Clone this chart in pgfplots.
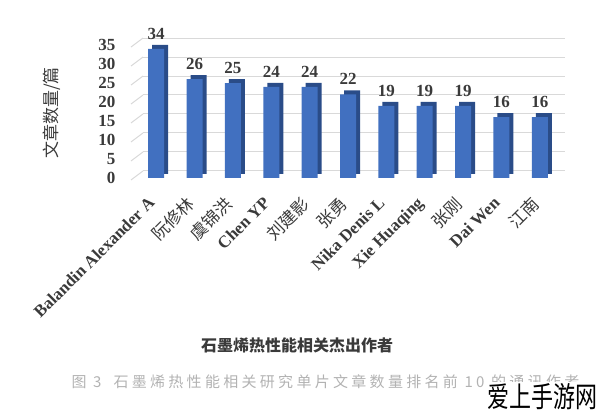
\documentclass[border=0pt]{standalone}
\usepackage{pgfplots}
\pgfplotsset{compat=1.18}
\usepackage{fontspec}
\setmainfont{Liberation Serif}
\newfontfamily\cjk{Noto Sans CJK SC}
\definecolor{barfront}{HTML}{4170C0}
\definecolor{barside}{HTML}{2A4C88}
\definecolor{txt}{HTML}{3A3A3A}
\definecolor{gridc}{HTML}{D9D9D9}
\begin{document}
\begin{tikzpicture}
\useasboundingbox (0,0) rectangle (600pt,415pt);
\begin{axis}[
  at={(137pt,237pt)}, anchor=south west,
  scale only axis, width=422pt, height=133pt,
  xmin=-0.5, xmax=10.5, ymin=0, ymax=35,
  axis line style={draw=none},
  major tick length=0pt,
  ytick={0,5,...,35},
  ymajorgrids,
  grid style={gridc, line width=1pt, xshift=6pt, yshift=7pt},
  xtick={0,...,10},
  xticklabels={Balandin Alexander A,{\cjk\mdseries 阮修林},{\cjk\mdseries 虞锦洪},Chen YP,{\cjk\mdseries 刘建影},{\cjk\mdseries 张勇},Nika Denis L,Xie Huaqing,{\cjk\mdseries 张刚},Dai Wen,{\cjk\mdseries 江南}},
  x tick label style={xshift=-9pt, yshift=-16pt, rotate=45, anchor=north east, font=\bfseries\fontsize{17}{17}\selectfont, text=txt, inner sep=1pt},
  y tick label style={font=\bfseries\fontsize{17}{17}\selectfont, text=txt, xshift=-18pt},
  /pgf/number format/assume math mode=true,
  clip=false,
  nodes near coords style={font=\bfseries\fontsize{17}{17}\selectfont, text=txt, yshift=6pt},
]
\addplot[ybar, bar width=16pt, fill=barside, draw=none, xshift=4pt, yshift=4pt] coordinates {(0,34) (1,26) (2,25) (3,24) (4,24) (5,22) (6,19) (7,19) (8,19) (9,16) (10,16)};
\addplot[ybar, bar width=16pt, fill=barfront, draw=none, nodes near coords] coordinates {(0,34) (1,26) (2,25) (3,24) (4,24) (5,22) (6,19) (7,19) (8,19) (9,16) (10,16)};
\pgfplotsinvokeforeach{0,5,...,35}{
  \draw[gridc, line width=1pt] (axis cs:-0.5,#1) ++(-6pt,-2pt) -- ++(12pt,9pt);
}
\end{axis}
\node[rotate=90, font=\cjk\fontsize{17}{17}\selectfont, text=txt] at (52pt,302pt) {文章数量/篇};
\node[font=\cjk\bfseries\fontsize{16}{16}\selectfont, text=txt] at (297pt,70pt) {石墨烯热性能相关杰出作者};
\node[anchor=west, font=\cjk\fontsize{15}{15}\selectfont\addfontfeature{LetterSpace=22}, text=gray!60] at (68pt,33pt) {图 3\hspace{12pt}石墨烯热性能相关研究单片文章数量排名前 10 的通讯作者};
\node[anchor=south east, fill=white, inner sep=1pt, yscale=1.3, font=\cjk\fontsize{22}{22}\selectfont, text=black] at (599pt,4pt) {爱上手游网};
\end{tikzpicture}
\end{document}
